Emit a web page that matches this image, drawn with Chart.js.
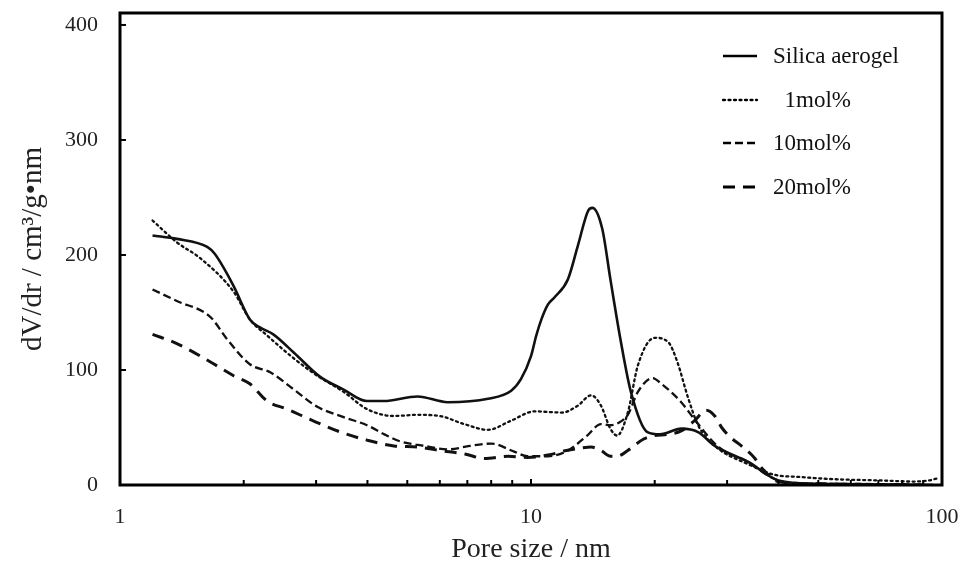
<!DOCTYPE html>
<html>
<head>
<meta charset="utf-8">
<script src="https://cdn.jsdelivr.net/npm/chart.js@4.4.1/dist/chart.umd.min.js"></script>
<style>
  html, body { margin: 0; padding: 0; background: #ffffff; }
  #c { display: block; }
</style>
</head>
<body>
<canvas id="c" width="964" height="569"></canvas>
<script>
// ---------------- data ----------------
const seriesNames = ['Silica aerogel', '  1mol%', '10mol%', '20mol%'];

const silicaX = [1.2, 1.375, 1.63, 1.70, 1.89, 2.07, 2.19, 2.36, 2.65, 3.07, 3.5, 3.99, 4.38, 5.3, 6.27, 7.86, 8.95, 9.45, 10.0, 10.3, 10.6, 11.0, 11.4, 12.3, 13.0, 13.8, 14.1, 14.9, 15.6, 16.5, 17.5, 19.2, 20.6, 23.2, 25.5, 28.0, 33.8, 40, 50, 70, 95];
const silicaY = [217, 214, 207, 201, 173, 144, 137, 131, 115, 94, 83, 73, 73, 77, 72, 75, 82, 92, 112, 130, 144, 157, 163, 179, 208, 239, 241, 223, 179, 127, 81, 46, 44, 49, 46, 34, 20, 4, 1, 0.5, 0];

const mol1X = [1.2, 1.375, 1.57, 1.89, 2.07, 2.28, 2.65, 3.02, 3.5, 3.99, 4.64, 5.3, 6.0, 6.87, 7.86, 8.95, 10.2, 11.9, 13.0, 14.0, 14.8, 15.6, 16.2, 17.2, 18.2, 20.0, 21.6, 22.7, 24.1, 25.5, 28.0, 33.8, 39, 45, 55, 70, 85, 93, 98];
const mol1Y = [230, 211, 197, 168, 144, 130, 110, 95, 81, 66, 60, 61, 60, 53, 48, 56, 64, 63, 69, 78, 69, 49, 43, 63, 104, 128, 124, 107, 76, 52, 34, 18, 9, 7, 5, 4, 3, 4, 6];

const mol10X = [1.2, 1.375, 1.66, 1.82, 2.07, 2.32, 2.65, 3.02, 3.5, 3.99, 4.4, 4.8, 5.5, 6.3, 7.1, 8.0, 9.1, 9.8, 11.0, 12.3, 13.7, 14.8, 15.6, 16.5, 17.2, 18.2, 19.8, 20.6, 23.2, 25.0, 28.0, 30.0, 33.0, 35.0, 37.8, 42, 60, 90];
const mol10Y = [170, 160, 146, 127, 105, 98, 83, 68, 59, 52, 44, 38, 34, 31, 34, 36, 29, 25, 25, 30, 43, 53, 52, 55, 61, 81, 93, 89, 72, 57, 36, 28, 22, 16, 8, 2, 1, 0];

const mol20X = [1.2, 1.375, 1.66, 1.89, 2.07, 2.28, 2.55, 2.9, 3.44, 3.99, 4.64, 5.3, 6.0, 6.9, 7.7, 8.8, 9.8, 11.0, 12.2, 13.2, 14.0, 14.8, 15.6, 16.2, 17.2, 18.8, 20.0, 21.5, 23.2, 25.0, 26.7, 28.0, 29.1, 30.7, 32.5, 34.9, 36.6, 40, 50, 90];
const mol20Y = [131, 123, 107, 95, 88, 73, 66, 57, 46, 39, 34, 33, 30, 27, 23, 25, 24, 26, 30, 32, 33, 30, 25, 25, 30, 40, 43, 44, 47, 56, 65, 60, 50, 41, 34, 24, 14, 3, 1, 0];

const xTickValues = [1, 2, 3, 4, 5, 6, 7, 8, 9, 10, 20, 30, 40, 50, 60, 70, 80, 90, 100];
const xTickLabels = { 1: '1', 10: '10', 100: '100' };
const yTickValues = [0, 100, 200, 300, 400];

const xTitle = 'Pore size / nm';
const yTitle = 'dV/dr / cm\u00B3/g\u2022nm';

// ---------------- chart ----------------
const SERIF = '"Liberation Serif", "DejaVu Serif", serif';
const toPoints = (xs, ys) => xs.map((x, i) => ({ x: x, y: ys[i] }));

const styles = [
  { borderWidth: 2.6, borderDash: [] },
  { borderWidth: 2.3, borderDash: [2, 3.5] },
  { borderWidth: 2.3, borderDash: [8, 4] },
  { borderWidth: 3, borderDash: [12, 8] }
];
const allX = [silicaX, mol1X, mol10X, mol20X];
const allY = [silicaY, mol1Y, mol10Y, mol20Y];

const datasets = seriesNames.map((name, i) => ({
  label: name,
  data: toPoints(allX[i], allY[i]),
  borderColor: '#111111',
  backgroundColor: '#111111',
  borderWidth: styles[i].borderWidth,
  borderDash: styles[i].borderDash,
  borderCapStyle: i === 1 ? 'round' : 'butt',
  pointRadius: 0,
  fill: false,
  cubicInterpolationMode: 'monotone'
}));

const frameAndLegend = {
  id: 'frameAndLegend',
  afterDatasetsDraw(chart) {
    const { ctx, chartArea: a } = chart;
    const xs = chart.scales.x, ys = chart.scales.y;
    ctx.save();
    ctx.strokeStyle = '#000';
    ctx.setLineDash([]);
    // inward tick marks
    ctx.lineWidth = 2;
    xs.ticks.forEach(t => {
      const px = xs.getPixelForValue(t.value);
      const len = xTickLabels[t.value] ? 6 : 5;
      ctx.beginPath();
      ctx.moveTo(px, a.bottom);
      ctx.lineTo(px, a.bottom - len);
      ctx.stroke();
    });
    ys.ticks.forEach(t => {
      const py = ys.getPixelForValue(t.value);
      ctx.beginPath();
      ctx.moveTo(a.left, py);
      ctx.lineTo(a.left + 6, py);
      ctx.stroke();
    });
    // frame
    ctx.lineWidth = 3;
    ctx.strokeRect(a.left, a.top, a.right - a.left, a.bottom - a.top);

    // legend
    const rows = [56, 100, 143, 187];
    ctx.font = '23px ' + SERIF;
    ctx.fillStyle = '#111';
    ctx.textBaseline = 'middle';
    ctx.textAlign = 'left';
    chart.data.datasets.forEach((d, i) => {
      const y = rows[i];
      ctx.lineWidth = d.borderWidth;
      ctx.setLineDash(d.borderDash);
      ctx.lineCap = d.borderCapStyle;
      ctx.beginPath();
      ctx.moveTo(723, y);
      ctx.lineTo(757, y);
      ctx.stroke();
      ctx.setLineDash([]);
      ctx.fillText(d.label, 773, y + 1);
    });
    ctx.restore();
  }
};

new Chart(document.getElementById('c'), {
  type: 'line',
  data: { datasets: datasets },
  options: {
    responsive: false,
    animation: false,
    events: [],
    layout: { padding: { left: 0, right: 22, top: 13, bottom: 0 } },
    plugins: { legend: { display: false }, tooltip: { enabled: false } },
    scales: {
      x: {
        type: 'logarithmic',
        min: 1,
        max: 100,
        afterBuildTicks: s => { s.ticks = xTickValues.map(v => ({ value: v })); },
        afterFit: s => { s.height = 84; s.paddingLeft = 0; s.paddingRight = 0; },
        grid: { display: false, drawTicks: false },
        border: { display: false },
        ticks: {
          autoSkip: false,
          maxRotation: 0,
          padding: 19,
          color: '#222',
          font: { family: SERIF, size: 22 },
          callback: v => xTickLabels[v] || ''
        },
        title: {
          display: true,
          text: xTitle,
          color: '#222',
          font: { family: SERIF, size: 28 },
          padding: { top: 0, bottom: 3 }
        }
      },
      y: {
        type: 'linear',
        min: 0,
        max: 410.4,
        afterBuildTicks: s => { s.ticks = yTickValues.map(v => ({ value: v })); },
        afterFit: s => { s.width = 120; s.paddingTop = 0; s.paddingBottom = 0; },
        grid: { display: false, drawTicks: false },
        border: { display: false },
        ticks: {
          padding: 22,
          color: '#222',
          font: { family: SERIF, size: 22 }
        },
        title: {
          display: true,
          text: yTitle,
          color: '#222',
          font: { family: SERIF, size: 29 },
          padding: { top: 16, bottom: 0 }
        }
      }
    }
  },
  plugins: [frameAndLegend]
});
</script>
</body>
</html>
